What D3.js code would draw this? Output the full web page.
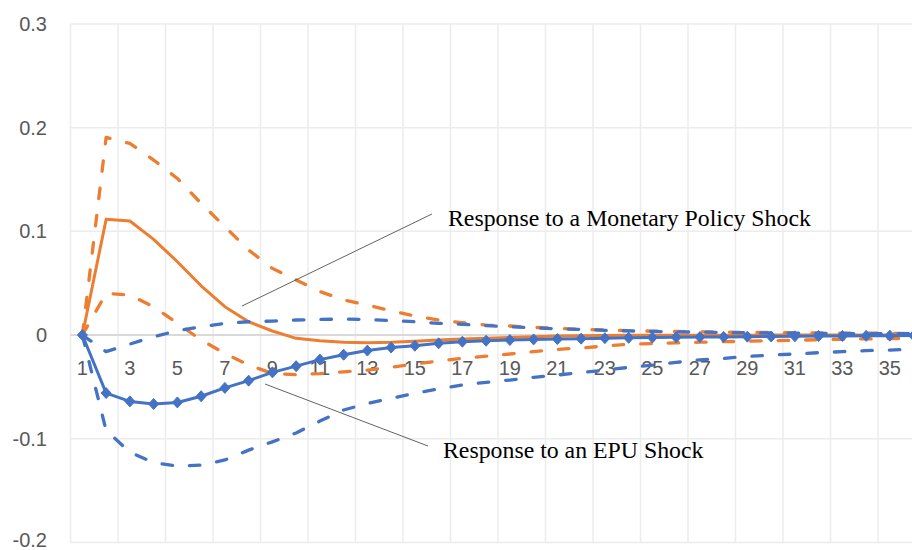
<!DOCTYPE html>
<html>
<head>
<meta charset="utf-8">
<script src="https://cdn.jsdelivr.net/npm/d3@7"></script>
<style>
  html, body { margin: 0; padding: 0; background: #fff; overflow: hidden; }
  svg { display: block; }
</style>
</head>
<body>
<svg id="chart" width="912" height="550"></svg>
<script>
// ---- data ----
const periods = d3.range(1, 37);
const xTickLabels = d3.range(1, 37, 2);
const yTicks = [-0.2, -0.1, 0, 0.1, 0.2, 0.3];
const yTickLabels = ["-0.2", "-0.1", "0", "0.1", "0.2", "0.3"];

const mpResponse = [0, 0.1116, 0.110, 0.0923, 0.0707, 0.0475, 0.0273, 0.0128, 0.0039, -0.0032,
  -0.0056, -0.0070, -0.0074, -0.0070, -0.0060, -0.0048, -0.0039, -0.0030, -0.0023, -0.0016,
  -0.0010, -0.0007, -0.0004, -0.0003, -0.0002, -0.0002, -0.0001, -0.0001, -0.0001, 0,
  0, 0, 0, 0, 0, 0];
const mpUpper = [0, 0.1906, 0.1848, 0.1688, 0.151, 0.127, 0.1045, 0.082, 0.0643, 0.053,
  0.0420, 0.0338, 0.029, 0.0234, 0.0183, 0.0145, 0.0119, 0.0096, 0.0087, 0.0074,
  0.0064, 0.0055, 0.0048, 0.0042, 0.0038, 0.0034, 0.0031, 0.0028, 0.0026, 0.0024,
  0.0022, 0.0020, 0.0019, 0.0018, 0.0017, 0.0016];
const mpLower = [0, 0.0402, 0.0386, 0.0273, 0.0113, -0.0048, -0.0177, -0.029, -0.037, -0.0382,
  -0.0372, -0.0355, -0.0338, -0.031, -0.028, -0.025, -0.0225, -0.0203, -0.0183, -0.016,
  -0.0138, -0.0125, -0.0106, -0.0090, -0.0082, -0.0075, -0.0069, -0.0064, -0.0060, -0.0055,
  -0.0050, -0.0045, -0.0041, -0.0037, -0.0034, -0.0032];

const epuResponse = [0, -0.056, -0.064, -0.0665, -0.065, -0.059, -0.051, -0.044, -0.036, -0.030,
  -0.0237, -0.019, -0.015, -0.012, -0.0103, -0.008, -0.0064, -0.0055, -0.0048, -0.0042,
  -0.0039, -0.0035, -0.0030, -0.0027, -0.0024, -0.0022, -0.0020, -0.0018, -0.0016, -0.0014,
  -0.0012, -0.0010, -0.0009, -0.0008, -0.0006, -0.0005];
const epuUpper = [0, -0.016, -0.0087, -0.0016, 0.0041, 0.008, 0.0113, 0.0128, 0.0135, 0.0145,
  0.0151, 0.0154, 0.015, 0.014, 0.0128, 0.0113, 0.0103, 0.009, 0.008, 0.007,
  0.006, 0.0055, 0.0045, 0.0040, 0.0035, 0.0031, 0.0028, 0.0025, 0.0022, 0.0020,
  0.0018, 0.0016, 0.0015, 0.0014, 0.0013, 0.0012];
const epuLower = [0, -0.092, -0.113, -0.123, -0.1265, -0.1255, -0.1205, -0.111, -0.103, -0.0945,
  -0.083, -0.0723, -0.066, -0.061, -0.0562, -0.052, -0.0482, -0.0456, -0.0434, -0.0408,
  -0.0386, -0.0363, -0.0338, -0.0312, -0.029, -0.0264, -0.024, -0.0225, -0.0206, -0.0193,
  -0.0183, -0.017, -0.016, -0.015, -0.0145, -0.0135];

const annMonetary = "Response to a Monetary Policy Shock";
const annEPU = "Response to an EPU Shock";

// ---- layout ----
const svg = d3.select("#chart");
const plot = { left: 70.5, top: 24, right: 70.5 + 36 * 23.75, bottom: 542.4 };
const orange = "#ED7D31", blue = "#4472C4";
const labelFont = "Liberation Sans, Arial, sans-serif";

const xBand = d3.scaleBand().domain(periods).range([plot.left, plot.right]).padding(0);
const x = d => xBand(d) + xBand.bandwidth() / 2;
const y = d3.scaleLinear().domain([-0.2, 0.3]).range([plot.bottom, plot.top]);

// horizontal gridlines
svg.append("g").selectAll("line").data(yTicks.filter(v => v !== 0)).join("line")
  .attr("x1", plot.left).attr("x2", plot.right)
  .attr("y1", d => y(d)).attr("y2", d => y(d))
  .attr("stroke", "#ececec").attr("stroke-width", 1.5);

// vertical gridlines every 2 categories
const vBounds = d3.range(0, 37, 2);
svg.append("g").selectAll("line").data(vBounds).join("line")
  .attr("x1", d => plot.left + d * xBand.bandwidth()).attr("x2", d => plot.left + d * xBand.bandwidth())
  .attr("y1", plot.top).attr("y2", plot.bottom)
  .attr("stroke", "#ececec").attr("stroke-width", 1.5);

// zero axis line
svg.append("line")
  .attr("x1", plot.left).attr("x2", plot.right)
  .attr("y1", y(0)).attr("y2", y(0))
  .attr("stroke", "#d9d9d9").attr("stroke-width", 2);

// y tick labels
svg.append("g").selectAll("text").data(yTicks).join("text")
  .attr("x", 47).attr("y", d => Math.min(y(d) + 7, 547))
  .attr("text-anchor", "end")
  .attr("font-family", labelFont).attr("font-size", 20)
  .attr("fill", "#595959")
  .text((d, i) => yTickLabels[i]);

// x tick labels (just below zero line)
svg.append("g").selectAll("text").data(xTickLabels).join("text")
  .attr("x", d => x(d)).attr("y", y(0) + 40)
  .attr("text-anchor", "middle")
  .attr("font-family", labelFont).attr("font-size", 20)
  .attr("fill", "#595959")
  .text(d => d);

const line = d3.line().x((d, i) => x(periods[i])).y(d => y(d));

function drawSeries(vals, color, dashed) {
  svg.append("path").datum(vals)
    .attr("d", line)
    .attr("fill", "none")
    .attr("stroke", color)
    .attr("stroke-width", dashed ? 3.3 : 3)
    .attr("stroke-linejoin", "round")
    .attr("stroke-linecap", dashed ? "round" : "butt")
    .attr("stroke-dasharray", dashed ? "10.5,17" : null);
}

drawSeries(mpLower, orange, true);
drawSeries(mpUpper, orange, true);
drawSeries(mpResponse, orange, false);
drawSeries(epuLower, blue, true);
drawSeries(epuUpper, blue, true);
drawSeries(epuResponse, blue, false);

// diamond markers
svg.append("g").selectAll("path").data(epuResponse).join("path")
  .attr("d", "M0,-5.5L5,0L0,5.5L-5,0Z")
  .attr("transform", (d, i) => `translate(${x(periods[i])},${y(d)})`)
  .attr("fill", blue).attr("stroke", blue).attr("stroke-width", 1);

// annotations with leader lines
svg.append("line").attr("x1", 242).attr("y1", 306).attr("x2", 432).attr("y2", 214)
  .attr("stroke", "#505050").attr("stroke-width", 0.9);
svg.append("line").attr("x1", 265).attr("y1", 384).attr("x2", 428).attr("y2", 446)
  .attr("stroke", "#505050").attr("stroke-width", 0.9);

svg.append("text").attr("x", 448).attr("y", 226)
  .attr("font-family", "Liberation Serif, Times New Roman, serif").attr("font-size", 23.8)
  .attr("fill", "#000").text(annMonetary);
svg.append("text").attr("x", 443).attr("y", 458)
  .attr("font-family", "Liberation Serif, Times New Roman, serif").attr("font-size", 23.8)
  .attr("fill", "#000").text(annEPU);
</script>
</body>
</html>
